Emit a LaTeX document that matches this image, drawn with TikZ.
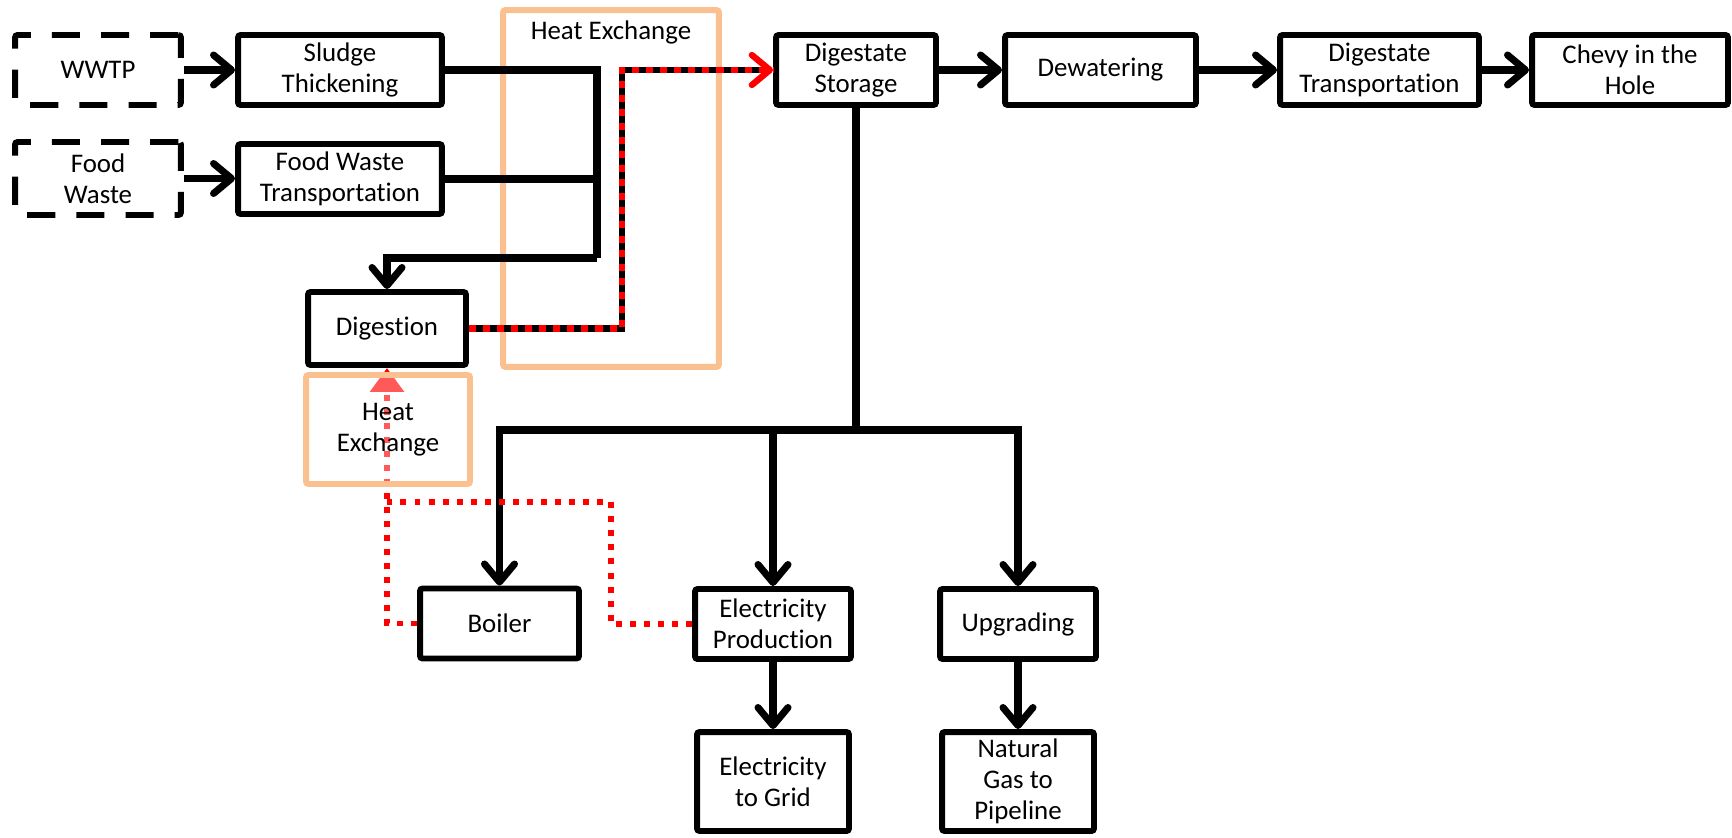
\documentclass[tikz,border=0pt]{standalone}
\usepackage{fontspec}
\setmainfont{Carlito}[Ligatures = NoCommon]
\usetikzlibrary{arrows.meta}

\definecolor{hxorange}{RGB}{250,192,143}
\definecolor{heatred}{RGB}{255,0,0}

\begin{document}
\begin{tikzpicture}[
    x = 0.02cm, y = -0.02cm,
    font = \fontsize{15.3}{17.8}\selectfont,
    box/.style = {draw, line width = 3.4pt, rounded corners = 1.5pt, align = center, inner sep = 2pt, minimum height = 1.40cm},
    source/.style = {box, dash pattern = on 16pt off 12pt},
    hxbox/.style = {draw = hxorange, line width = 3.4pt, rounded corners = 1.5pt, align = center},
    flow/.style = {line width = 4pt, -{Straight Barb[length = 0.36cm, width = 0.6cm, round]}},
    pipe/.style = {line width = 4pt},
    digflow/.style = {line width = 3.6pt, -{Straight Barb[length = 0.36cm, width = 0.6cm, round, color = heatred]},
        postaction = {draw = heatred, dash pattern = on 4pt off 4pt, -}},
    heatline/.style = {draw = heatred, line width = 3.4pt, dash pattern = on 3.4pt off 4.6pt}]

\fill[white] (0,0) rectangle (1732,838);
\useasboundingbox (0,0) rectangle (1732,838);

\path (611,188.5) node[hxbox, minimum width = 4.32cm, minimum height = 7.14cm,
	  label = {[anchor = north, yshift = -0.16cm]north:Heat Exchange}] (hxtop) {};

\path (98,70) node[source, minimum width = 3.32cm] (wwtp) {WWTP}
	  (98,178.5) node[source, minimum width = 3.32cm, minimum height = 1.46cm] (fw) {Food\\Waste}
	  (340,70) node[box, minimum width = 4.08cm] (thick) {Sludge\\Thickening}
	  (340,179) node[box, minimum width = 4.08cm] (fwt) {Food Waste\\Transportation}
	  (387,328.5) node[box, minimum width = 3.16cm, minimum height = 1.46cm] (dig) {Digestion}
	  (856,70) node[box, minimum width = 3.2cm] (store) {Digestate\\Storage}
	  (1100.5,70) node[box, minimum width = 3.82cm] (dewater) {Dewatering}
	  (1379.5,70) node[box, minimum width = 3.98cm] (dtrans) {Digestate\\Transportation}
	  (1630,70) node[box, minimum width = 3.92cm] (chevy) {Chevy in the\\Hole}
	  (499.5,623.5) node[box, minimum width = 3.18cm] (boiler) {Boiler}
	  (773,624) node[box, minimum width = 3.12cm] (elec) {Electricity\\Production}
	  (1018,624) node[box, minimum width = 3.12cm] (upgrade) {Upgrading}
	  (773,781.5) node[box, minimum width = 3.04cm, minimum height = 1.98cm] (grid) {Electricity\\to Grid}
	  (1018,781.5) node[box, minimum width = 3.04cm, minimum height = 1.98cm] (pipeline) {Natural\\Gas to\\Pipeline};

\coordinate (merge) at (597,258);
\coordinate (split) at (856,430);
\coordinate (hxjoin) at (387,502);

\draw[flow] (wwtp) -- (thick);
\draw[flow] (fw) -- (fw -| fwt.west);
\draw[pipe] (thick) -| (merge);
\draw[pipe] (fwt) -- (fwt -| merge);
\draw[flow] (merge) -| (dig);
\draw[digflow] (dig.east) -- ++(153,0) |- (store);
\draw[flow] (store) -- (dewater);
\draw[flow] (dewater) -- (dtrans);
\draw[flow] (dtrans) -- (chevy);
\draw[pipe] (store) -- (split);
\draw[flow] (split) -| (boiler);
\draw[flow] (split) -| (elec);
\draw[flow] (split) -| (upgrade);
\draw[flow] (elec) -- (grid);
\draw[flow] (upgrade) -- (pipeline);
\draw[heatline, -{Triangle[length = 0.48cm, width = 0.66cm]}] (boiler) -| (dig);
\draw[heatline] (elec.west) -- ++(-81,0) |- (hxjoin);

\path (388,429.5) node[hxbox, fill = white, fill opacity = 0.35, text opacity = 1,
	  minimum width = 3.28cm, minimum height = 2.18cm] (hxlow) {Heat\\Exchange};
\end{tikzpicture}
\end{document}
